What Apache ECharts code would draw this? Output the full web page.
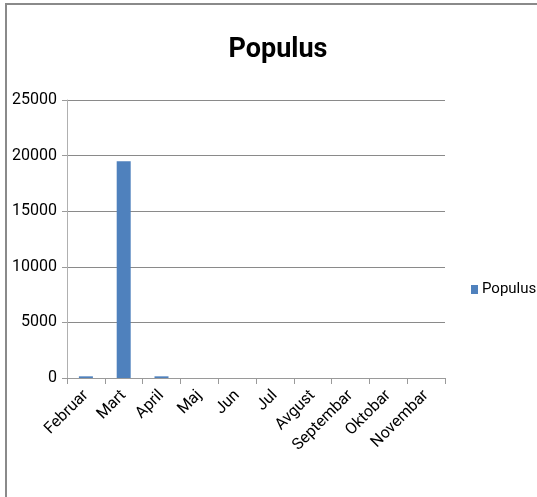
<!DOCTYPE html>
<html>
<head>
<meta charset="utf-8">
<script src="https://cdn.jsdelivr.net/npm/echarts@6/dist/echarts.min.js"></script>
<style>
  html, body { margin: 0; padding: 0; background: #fff; }
  #frame { position: absolute; left: 5px; top: 3px; width: 560px; height: 520px;
           border-left: 2px solid #8a8a8a; border-top: 2px solid #8a8a8a; box-sizing: border-box; }
  #chart { position: absolute; left: 0; top: 0; width: 537px; height: 497px; }
</style>
</head>
<body>
<div id="frame"></div>
<div id="chart"></div>
<script>
// monthly counts
const months = ['Februar', 'Mart', 'April', 'Maj', 'Jun', 'Jul', 'Avgust', 'Septembar', 'Oktobar', 'Novembar']
const populus = [150, 19500, 150, 0, 0, 0, 0, 0, 0, 0]
const seriesName = 'Populus'

const font = 'Roboto, "Noto Sans", sans-serif'

const chart = echarts.init(document.getElementById('chart'))
chart.setOption({
  animation: false,
  title: {
    text: seriesName,
    left: 273, top: 32, textAlign: 'center',
    textStyle: { fontFamily: font, fontSize: 27, fontWeight: 'bold', color: '#000' },
  },
  legend: {
    data: [seriesName],
    left: 466, top: 277,
    icon: 'rect',
    itemWidth: 7, itemHeight: 9, itemGap: 4,
    textStyle: { fontFamily: font, fontSize: 15, color: '#000', padding: [0, 0, 0, -1] },
  },
  grid: { left: 67, right: 92, top: 100, bottom: 119, containLabel: false },
  xAxis: {
    type: 'category',
    data: months,
    axisLine: { lineStyle: { color: '#9a9a9a', width: 1 } },
    axisTick: { show: true, length: 6, lineStyle: { color: '#9a9a9a' } },
    axisLabel: {
      rotate: 45, margin: 15, interval: 0,
      fontFamily: font, fontSize: 16, color: '#000',
    },
  },
  yAxis: {
    type: 'value',
    min: 0, max: 25000, interval: 5000,
    axisLine: { show: true, lineStyle: { color: '#b0b0b0' } },
    axisTick: { show: true, length: 5, lineStyle: { color: '#9a9a9a' } },
    axisLabel: { margin: 10, fontFamily: font, fontSize: 16, color: '#000', formatter: v => String(v) },
    splitLine: { lineStyle: { color: '#8a8a8a', width: 1 } },
  },
  series: [{
    name: seriesName,
    type: 'bar',
    data: populus,
    barWidth: 14,
    itemStyle: { color: '#4f81bd' },
  }],
})
</script>
</body>
</html>
